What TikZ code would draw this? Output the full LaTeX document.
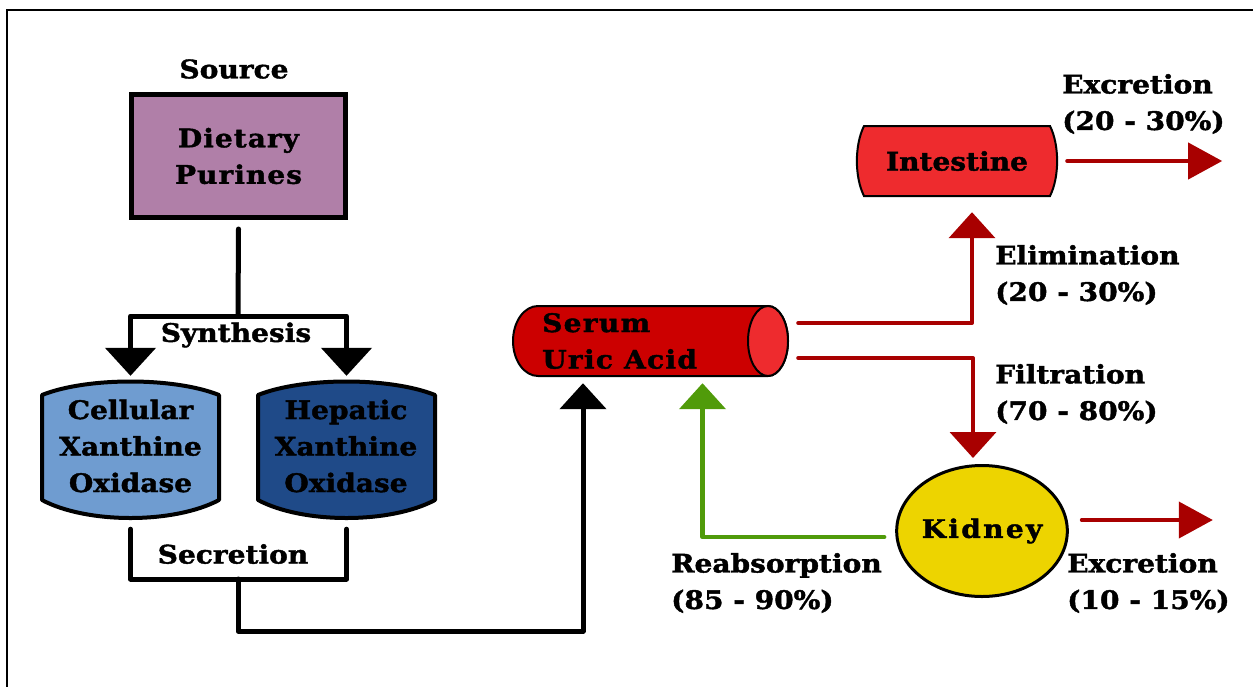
\documentclass[tikz,border=0pt]{standalone}
\usepackage{fontspec}
\setmainfont{DejaVu Serif}[FakeStretch=1.1, BoldFeatures={FakeBold=1.6}]
\usetikzlibrary{arrows.meta,shapes.geometric,calc}
\definecolor{dietc}{RGB}{176,127,168}
\definecolor{cellc}{RGB}{111,156,208}
\definecolor{hepc}{RGB}{31,74,136}
\definecolor{serumbody}{RGB}{204,0,0}
\definecolor{serumface}{RGB}{238,43,46}
\definecolor{intc}{RGB}{238,43,46}
\definecolor{kidc}{RGB}{237,212,0}
\definecolor{redarr}{RGB}{168,0,0}
\definecolor{grnarr}{RGB}{80,155,10}
\tikzset{
  txt/.style={font=\fontsize{25.5}{36.5}\selectfont\bfseries, inner sep=0pt, align=center},
  txtl/.style={txt, align=left},
  blkline/.style={line width=5pt, black, line join=round, line cap=round},
  redline/.style={line width=4pt, redarr, line join=round, line cap=round},
  grnline/.style={line width=4.5pt, grnarr, line join=round, line cap=round},
  medtip/.style={-{Triangle[width=46pt,length=26pt]}},
  sidetip/.style={-{Triangle[width=36pt,length=34pt]}},
}
\begin{document}
\begin{tikzpicture}[x=1pt,y=-1pt]
\useasboundingbox (0,0) rectangle (1253,686);
% frame
\draw[line width=2.5pt] (1265,10) -- (7,10) -- (7,700);

% ---- shapes drawn directly ----
% Cellular / Hepatic barrels
\draw[line width=4pt, line join=round, fill=cellc]
  (42,395) .. controls (87,377) and (174,377) .. (219,395)
  -- (219,500) .. controls (174,524) and (87,524) .. (42,500) -- cycle;
\draw[line width=4pt, line join=round, fill=hepc]
  (258,395) .. controls (303,377) and (390,377) .. (435,395)
  -- (435,500) .. controls (390,524) and (303,524) .. (258,500) -- cycle;
% Serum cylinder
\draw[line width=2pt, fill=serumbody] (768,306) -- (538,306)
  arc[start angle=90, end angle=270, x radius=25pt, y radius=35pt]
  -- (768,376)
  arc[start angle=-90, end angle=90, x radius=20pt, y radius=35pt] -- cycle;
\draw[line width=2pt, fill=serumface] (768,341) ellipse [x radius=20pt, y radius=35pt];
% Intestine
\draw[line width=2pt, fill=intc] (864,126) -- (1050,126)
  .. controls (1059.5,145) and (1059.5,177) .. (1050,196)
  -- (864,196) .. controls (854.5,177) and (854.5,145) .. (864,126) -- cycle;

% ---- nodes ----
\node[txt] (source) at (234,69) {Source};
\node[txt, draw, line width=5pt, fill=dietc, minimum width=214pt, minimum height=123pt] (diet) at (238.5,156) {\addfontfeature{LetterSpace=4}Dietary\\\addfontfeature{LetterSpace=4}Purines};
\node[txt] (synlab) at (236,335) {Synthesis};
\node[txt, minimum width=177pt, minimum height=139pt] (cell) at (130.5,450.5) {};
\node[txt] at (130.5,446) {Cellular\\Xanthine\\Oxidase};
\node[txt, minimum width=177pt, minimum height=139pt] (hep) at (346.5,450.5) {};
\node[txt] at (346,446) {Hepatic\\Xanthine\\Oxidase};
\node[txt] (seclab) at (233,554) {Secretion};
\node[txt, minimum width=275pt, minimum height=70pt] (serum) at (650.5,341) {};
\node[txtl, anchor=west] at (542,341) {\addfontfeature{LetterSpace=5}Serum\\\addfontfeature{LetterSpace=5}Uric Acid};
\node[txt, minimum width=200pt, minimum height=70pt] (int) at (957,161) {Intestine};
\node[txt, ellipse, draw, line width=3pt, fill=kidc, minimum width=166pt, minimum height=131pt] (kid) at (982,531) {\addfontfeature{LetterSpace=9}Kidney};
\node[txtl, anchor=west] (exc1) at (1062,104) {Excretion\\(20 - 30\%)};
\node[txtl, anchor=west] (elim) at (995,275) {Elimination\\(20 - 30\%)};
\node[txtl, anchor=west] (filt) at (995,394) {Filtration\\(70 - 80\%)};
\node[txtl, anchor=west] (exc2) at (1067,583) {Excretion\\(10 - 15\%)};
\node[txtl, anchor=west] (reab) at (671,583) {Reabsorption\\(85 - 90\%)};

% ---- connectors ----
\coordinate (syn) at (238,316);
\coordinate (sec) at (238,579);
\coordinate (low) at (583,631);
\draw[blkline] ([yshift=-9pt]diet.south) -- (syn);
\draw[blkline, {Triangle[width=50pt,length=28pt]}-{Triangle[width=50pt,length=28pt]}]
  ([yshift=5pt]cell.north) |- (syn) -| ([yshift=5pt]hep.north);
\draw[blkline] ([yshift=-9pt]cell.south) |- (sec) -| ([yshift=-9pt]hep.south);
\draw[blkline, medtip] (sec) |- (low) -- ($(low |- serum.south)+(0,7)$);
\draw[grnline, medtip] ($(kid.west)+(-11,6)$) -| ($(serum.south)+(52,7)$);
\draw[redline, medtip] ($(serum.east)+(10,-18)$) -| ($(int.south)+(15,16)$);
\draw[redline, medtip] ($(serum.east)+(10,17)$) -| ($(kid.north)+(-9,-6)$);
\draw[redline, sidetip] ($(int.east)+(10,0)$) -- ++(155,0);
\draw[redline, sidetip] ($(kid.east)+(13,-11)$) -- ++(131,0);
\end{tikzpicture}
\end{document}
